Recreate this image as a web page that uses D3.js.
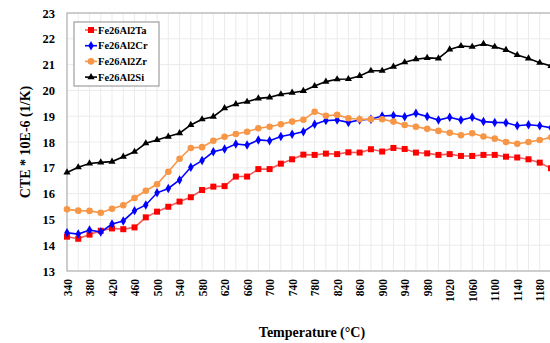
<!DOCTYPE html>
<html>
<head>
<meta charset="utf-8">
<script src="https://cdn.jsdelivr.net/npm/d3@7"></script>
<style>
  body { margin: 0; background: #fff; }
  text { font-family: "Liberation Serif", "Times New Roman", serif; font-weight: bold; }
</style>
</head>
<body>
<div id="chart"></div>
<script>
// temperatures (°C), one point every 20
var temps = [340, 360, 380, 400, 420, 440, 460, 480, 500, 520, 540, 560, 580, 600, 620, 640, 660, 680, 700, 720, 740,
             760, 780, 800, 820, 840, 860, 880, 900, 920, 940, 960, 980, 1000, 1020, 1040, 1060, 1080, 1100, 1120, 1140, 1160, 1180, 1200];

var ta = [14.33, 14.25, 14.41, 14.56, 14.65, 14.62, 14.69, 15.08, 15.30, 15.49, 15.69, 15.86, 16.14, 16.27, 16.29, 16.66, 16.66, 16.95, 16.95, 17.16, 17.33,
          17.51, 17.50, 17.55, 17.53, 17.60, 17.59, 17.72, 17.63, 17.77, 17.73, 17.59, 17.56, 17.50, 17.53, 17.46, 17.46, 17.50, 17.50, 17.43, 17.40, 17.33, 17.20, 16.98];
var cr = [14.48, 14.43, 14.59, 14.51, 14.82, 14.94, 15.34, 15.56, 16.03, 16.20, 16.53, 17.02, 17.28, 17.62, 17.73, 17.92, 17.88, 18.08, 18.05, 18.21, 18.30,
          18.40, 18.69, 18.83, 18.85, 18.76, 18.85, 18.88, 19.01, 19.03, 18.98, 19.11, 18.99, 18.85, 18.96, 18.85, 18.96, 18.79, 18.76, 18.75, 18.63, 18.67, 18.63, 18.55];
var zr = [15.39, 15.34, 15.33, 15.26, 15.41, 15.55, 15.83, 16.11, 16.36, 16.85, 17.35, 17.77, 17.80, 18.05, 18.20, 18.31, 18.40, 18.53, 18.59, 18.69, 18.79,
          18.86, 19.17, 19.02, 19.05, 18.92, 18.88, 18.88, 18.88, 18.79, 18.66, 18.59, 18.51, 18.43, 18.36, 18.26, 18.34, 18.21, 18.13, 18.00, 17.93, 18.00, 18.08, 18.18];
var si = [16.82, 17.02, 17.17, 17.21, 17.24, 17.43, 17.62, 17.95, 18.08, 18.21, 18.34, 18.66, 18.88, 18.98, 19.31, 19.47, 19.56, 19.69, 19.73, 19.85, 19.91,
          19.98, 20.17, 20.34, 20.43, 20.44, 20.56, 20.76, 20.76, 20.92, 21.09, 21.21, 21.26, 21.24, 21.59, 21.72, 21.69, 21.80, 21.69, 21.57, 21.37, 21.24, 21.07, 20.95];

var seriesNames = ["Fe26Al2Ta", "Fe26Al2Cr", "Fe26Al2Zr", "Fe26Al2Si"];
var xTickLabels = [340, 380, 420, 460, 500, 540, 580, 620, 660, 700, 740, 780, 820, 860, 900, 940, 980, 1020, 1060, 1100, 1140, 1180];
var yTicks = [13, 14, 15, 16, 17, 18, 19, 20, 21, 22, 23];

var series = [
  {name: seriesNames[0], values: ta, line: "#f05a5a", color: "#ff0000", symbol: d3.symbolSquare, size: 36},
  {name: seriesNames[1], values: cr, line: "#0000ff", color: "#0000ff", symbol: d3.symbolDiamond, size: 26},
  {name: seriesNames[2], values: zr, line: "#f79646", color: "#f79646", symbol: d3.symbolCircle, size: 34},
  {name: seriesNames[3], values: si, line: "#000000", color: "#000000", symbol: d3.symbolTriangle, size: 22}
];

var margin = {top: 13, right: 0, bottom: 72, left: 67},
    width = 550, height = 343;

var svg = d3.select("#chart")
  .append("svg")
    .attr("width", width)
    .attr("height", height);

var x = d3.scaleLinear()
    .domain([340, 1200])
    .range([margin.left, 551]);

var y = d3.scaleLinear()
    .domain([13, 23])
    .range([height - margin.bottom, margin.top]);

// grid
svg.append("g")
  .selectAll("line.v")
  .data(temps)
  .enter().append("line")
    .attr("x1", function(d) { return x(d); })
    .attr("x2", function(d) { return x(d); })
    .attr("y1", y(13))
    .attr("y2", y(23))
    .attr("stroke", "#ebebeb");

svg.append("g")
  .selectAll("line.h")
  .data(yTicks)
  .enter().append("line")
    .attr("x1", x(340))
    .attr("x2", x(1200))
    .attr("y1", function(d) { return y(d); })
    .attr("y2", function(d) { return y(d); })
    .attr("stroke", "#ebebeb");

// plot border
svg.append("rect")
  .attr("x", x(340))
  .attr("y", y(23))
  .attr("width", x(1200) - x(340))
  .attr("height", y(13) - y(23))
  .attr("fill", "none")
  .attr("stroke", "#a6a6a6");

// y axis labels
var yAxis = svg.append("g")
  .attr("transform", "translate(" + (margin.left - 12) + ",0)")
  .call(d3.axisLeft(y).tickValues(yTicks).tickSize(0).tickPadding(0).tickFormat(d3.format("d")));
yAxis.select(".domain").remove();
yAxis.selectAll("text")
  .style("font-size", "12.5px")
  .attr("fill", "#000");

// x axis labels, rotated
var xAxis = svg.append("g")
  .attr("transform", "translate(0," + (y(13) + 8) + ")")
  .call(d3.axisBottom(x).tickValues(xTickLabels).tickSize(0).tickFormat(d3.format("d")));
xAxis.select(".domain").remove();
xAxis.selectAll("text")
  .attr("transform", "rotate(-90)")
  .attr("text-anchor", "end")
  .attr("x", 0)
  .attr("y", 0)
  .attr("dx", 0)
  .attr("dy", "0.35em")
  .style("font-size", "11.5px")
  .attr("fill", "#000");

// lines and markers
var line = d3.line()
  .x(function(d, i) { return x(temps[i]); })
  .y(function(d) { return y(d); });

series.forEach(function(s) {
  svg.append("path")
    .datum(s.values)
    .attr("fill", "none")
    .attr("stroke", s.line)
    .attr("stroke-width", 1.6)
    .attr("d", line);

  svg.append("g")
    .selectAll("path")
    .data(s.values)
    .enter().append("path")
      .attr("transform", function(d, i) { return "translate(" + x(temps[i]) + "," + y(d) + ")"; })
      .attr("d", d3.symbol().type(s.symbol).size(s.size))
      .attr("fill", s.color);
});

// legend
var legend = svg.append("g").attr("transform", "translate(74,22)");
legend.append("rect")
  .attr("width", 85)
  .attr("height", 64)
  .attr("fill", "#fff")
  .attr("stroke", "#8c8c8c");

var items = legend.selectAll("g.item")
  .data(series)
  .enter().append("g")
    .attr("transform", function(d, i) { return "translate(0," + (8 + i * 15.7) + ")"; });
items.append("line")
  .attr("x1", 11).attr("x2", 23)
  .attr("stroke", function(d) { return d.line; })
  .attr("stroke-width", 1.6);
items.append("path")
  .attr("transform", "translate(17,0)")
  .attr("d", function(d) { return d3.symbol().type(d.symbol).size(d.size)(); })
  .attr("fill", function(d) { return d.color; });
items.append("text")
  .attr("x", 24)
  .attr("dy", "0.35em")
  .style("font-size", "10.5px")
  .text(function(d) { return d.name; });

// axis titles
svg.append("text")
  .attr("text-anchor", "middle")
  .attr("x", 312)
  .attr("y", 337)
  .style("font-size", "14px")
  .text("Temperature (°C)");

svg.append("text")
  .attr("text-anchor", "middle")
  .attr("transform", "translate(30," + ((y(13) + y(23)) / 2) + ") rotate(-90)")
  .style("font-size", "14px")
  .text("CTE * 10E-6 (1/K)");
</script>
</body>
</html>
